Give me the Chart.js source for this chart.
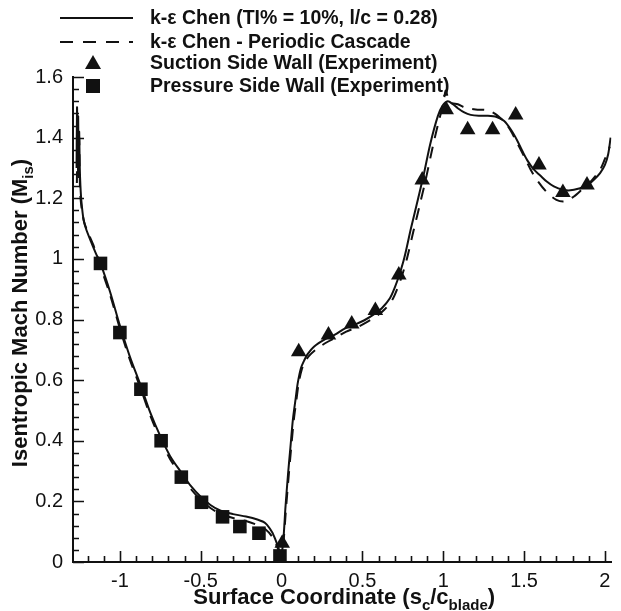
<!DOCTYPE html>
<html>
<head>
<meta charset="utf-8">
<script src="https://cdn.jsdelivr.net/npm/chart.js@4.4.1/dist/chart.umd.min.js"></script>
<style>
  html, body { margin: 0; padding: 0; background: #fff; }
  canvas { display: block; }
</style>
</head>
<body>
<canvas id="chart" width="621" height="611"></canvas>
<script>
const FONT = '"Liberation Sans", Arial, Helvetica, sans-serif';

// k-eps Chen (TI% = 10%, l/c = 0.28)
const chenX = [-1.268, -1.265, -1.262, -1.258, -1.255, -1.252, -1.248, -1.244, -1.238, -1.225, -1.21, -1.185, -1.15, -1.12, -1.06, -1.0, -0.94, -0.87, -0.81, -0.75, -0.69, -0.62, -0.56, -0.5, -0.44, -0.38, -0.3, -0.22, -0.15, -0.1, -0.06, -0.035, -0.015, 0.0, 0.012, 0.024, 0.04, 0.055, 0.07, 0.086, 0.1, 0.12, 0.14, 0.16, 0.2, 0.27, 0.33, 0.39, 0.46, 0.52, 0.58, 0.62, 0.67, 0.70, 0.73, 0.76, 0.80, 0.845, 0.88, 0.92, 0.966, 0.995, 1.028, 1.06, 1.09, 1.13, 1.17, 1.22, 1.274, 1.33, 1.377, 1.42, 1.458, 1.49, 1.52, 1.56, 1.60, 1.64, 1.684, 1.74, 1.786, 1.84, 1.889, 1.93, 1.97, 2.0, 2.02, 2.035];
const chenY = [1.30, 1.50, 1.35, 1.47, 1.27, 1.42, 1.30, 1.24, 1.19, 1.13, 1.10, 1.065, 1.02, 0.985, 0.89, 0.78, 0.68, 0.58, 0.49, 0.415, 0.35, 0.295, 0.25, 0.215, 0.188, 0.17, 0.158, 0.15, 0.14, 0.128, 0.10, 0.07, 0.04, 0.03, 0.08, 0.18, 0.29, 0.38, 0.47, 0.535, 0.59, 0.64, 0.665, 0.685, 0.71, 0.735, 0.75, 0.77, 0.785, 0.80, 0.82, 0.837, 0.87, 0.905, 0.95, 1.005, 1.10, 1.20, 1.28, 1.38, 1.47, 1.505, 1.52, 1.51, 1.497, 1.483, 1.475, 1.472, 1.472, 1.468, 1.455, 1.425, 1.39, 1.355, 1.325, 1.295, 1.275, 1.255, 1.239, 1.228, 1.226, 1.232, 1.241, 1.26, 1.283, 1.31, 1.345, 1.40];

// k-eps Chen - periodic cascade
const periodicX = [-1.266, -1.262, -1.258, -1.252, -1.246, -1.235, -1.22, -1.2, -1.16, -1.12, -1.06, -1.0, -0.94, -0.87, -0.81, -0.75, -0.69, -0.62, -0.56, -0.5, -0.44, -0.38, -0.3, -0.22, -0.15, -0.1, -0.06, -0.035, -0.015, 0.0, 0.014, 0.028, 0.045, 0.06, 0.076, 0.092, 0.106, 0.125, 0.145, 0.17, 0.21, 0.28, 0.34, 0.4, 0.47, 0.53, 0.59, 0.635, 0.685, 0.715, 0.745, 0.775, 0.815, 0.86, 0.895, 0.935, 0.975, 1.0, 1.015, 1.03, 1.05, 1.09, 1.13, 1.2, 1.274, 1.33, 1.4, 1.45, 1.5, 1.54, 1.58, 1.64, 1.70, 1.75, 1.806, 1.86, 1.92, 1.97, 2.0, 2.03];
const periodicY = [1.25, 1.42, 1.28, 1.40, 1.22, 1.16, 1.12, 1.09, 1.04, 0.975, 0.88, 0.77, 0.67, 0.57, 0.48, 0.405, 0.34, 0.285, 0.24, 0.205, 0.178, 0.16, 0.145, 0.135, 0.122, 0.108, 0.085, 0.06, 0.035, 0.025, 0.08, 0.18, 0.29, 0.38, 0.47, 0.535, 0.59, 0.635, 0.66, 0.68, 0.70, 0.725, 0.742, 0.76, 0.775, 0.792, 0.812, 0.832, 0.865, 0.90, 0.945, 1.0, 1.09, 1.19, 1.27, 1.37, 1.46, 1.51, 1.555, 1.53, 1.515, 1.51, 1.50, 1.493, 1.49, 1.475, 1.437, 1.39, 1.338, 1.295, 1.26, 1.22, 1.195, 1.19, 1.205, 1.23, 1.26, 1.294, 1.33, 1.37];

// Experiment, suction side wall
const suctionX = [0.004, 0.106, 0.29, 0.434, 0.58, 0.725, 0.87, 1.018, 1.151, 1.305, 1.448, 1.592, 1.74, 1.889];
const suctionY = [0.062, 0.694, 0.749, 0.785, 0.83, 0.947, 1.26, 1.492, 1.426, 1.426, 1.475, 1.31, 1.219, 1.244];

// Experiment, pressure side wall
const pressureX = [-1.12, -1.0, -0.87, -0.745, -0.62, -0.495, -0.365, -0.258, -0.14, -0.01];
const pressureY = [0.985, 0.757, 0.57, 0.40, 0.28, 0.197, 0.149, 0.117, 0.095, 0.02];

const legendLabels = [
  'k-\u03b5 Chen (TI% = 10%, l/c = 0.28)',
  'k-\u03b5 Chen - Periodic Cascade',
  'Suction Side Wall (Experiment)',
  'Pressure Side Wall (Experiment)'
];

// labelled ticks; minor ticks fall in between
const xTickLabels = [-1, -0.5, 0, 0.5, 1, 1.5, 2];
const yTickLabels = [0, 0.2, 0.4, 0.6, 0.8, 1, 1.2, 1.4, 1.6];

const pts = (xs, ys) => xs.map((x, i) => ({ x: x, y: ys[i] }));

function minorTicks(lo, hi, step) {
  const out = [];
  const n = Math.round((hi - lo) / step);
  for (let i = 0; i <= n; i++) out.push(+(lo + i * step).toFixed(4));
  return out;
}
const isMajor = (v, majors) => majors.some(m => Math.abs(m - v) < 1e-6);

// inward major/minor ticks
const innerTicks = {
  id: 'innerTicks',
  beforeDatasetsDraw(chart) {
    const { ctx, chartArea: a, scales: { x, y } } = chart;
    ctx.save();
    ctx.strokeStyle = '#111';
    ctx.lineWidth = 1.6;
    ctx.beginPath();
    x.ticks.forEach(t => {
      const px = Math.round(x.getPixelForValue(t.value)) + 0.5;
      const len = isMajor(t.value, xTickLabels) ? 11 : 6;
      ctx.moveTo(px, a.bottom);
      ctx.lineTo(px, a.bottom - len);
    });
    y.ticks.forEach(t => {
      const py = Math.round(y.getPixelForValue(t.value)) + 0.5;
      const len = isMajor(t.value, yTickLabels) ? 11 : 6;
      ctx.moveTo(a.left, py);
      ctx.lineTo(a.left + len, py);
    });
    ctx.stroke();
    ctx.restore();
  }
};

// draws a run of text pieces, some of them as subscripts
function drawRich(ctx, parts, size, x, y) {
  const widths = parts.map(p => {
    ctx.font = 'bold ' + (p.sub ? Math.round(size * 0.68) : size) + 'px ' + FONT;
    return ctx.measureText(p.t).width;
  });
  let cx = x - widths.reduce((s, w) => s + w, 0) / 2;
  parts.forEach((p, i) => {
    ctx.font = 'bold ' + (p.sub ? Math.round(size * 0.68) : size) + 'px ' + FONT;
    ctx.fillText(p.t, cx, p.sub ? y + size * 0.25 : y);
    cx += widths[i];
  });
}

const titlesAndLegend = {
  id: 'titlesAndLegend',
  afterDraw(chart) {
    const { ctx, chartArea: a } = chart;
    ctx.save();
    ctx.fillStyle = '#111';
    ctx.textBaseline = 'alphabetic';
    ctx.textAlign = 'left';

    // x axis title
    drawRich(ctx, [
      { t: 'Surface Coordinate (s' }, { t: 'c', sub: true },
      { t: '/c' }, { t: 'blade', sub: true }, { t: ')' }
    ], 22, (a.left + a.right) / 2 + 2, 604);

    // y axis title
    ctx.save();
    ctx.translate(27, 313);
    ctx.rotate(-Math.PI / 2);
    drawRich(ctx, [
      { t: 'Isentropic Mach Number (M' }, { t: 'is', sub: true }, { t: ')' }
    ], 22, 0, 0);
    ctx.restore();

    // legend
    const rows = [18, 42, 63, 86];
    ctx.strokeStyle = '#111';
    ctx.lineWidth = 2;
    ctx.beginPath();
    ctx.moveTo(60, rows[0]); ctx.lineTo(133, rows[0]);
    ctx.stroke();
    ctx.setLineDash([13, 10]);
    ctx.beginPath();
    ctx.moveTo(60, rows[1]); ctx.lineTo(133, rows[1]);
    ctx.stroke();
    ctx.setLineDash([]);

    ctx.beginPath();
    ctx.moveTo(93, rows[2] - 8);
    ctx.lineTo(101, rows[2] + 6);
    ctx.lineTo(85, rows[2] + 6);
    ctx.closePath();
    ctx.fill();
    ctx.fillRect(86, rows[3] - 7, 14, 14);

    ctx.font = 'bold 19.5px ' + FONT;
    ctx.textBaseline = 'middle';
    legendLabels.forEach((s, i) => ctx.fillText(s, 150, rows[i] + 1));
    ctx.restore();
  }
};

new Chart(document.getElementById('chart'), {
  type: 'scatter',
  data: {
    datasets: [
      {
        label: legendLabels[2],
        data: pts(suctionX, suctionY),
        pointStyle: 'triangle',
        pointRadius: 9,
        backgroundColor: '#111',
        borderColor: '#111',
        borderWidth: 0,
        clip: false,
        order: 0
      },
      {
        label: legendLabels[3],
        data: pts(pressureX, pressureY),
        pointStyle: 'rect',
        pointRadius: 9.6,
        backgroundColor: '#111',
        borderColor: '#111',
        borderWidth: 0,
        clip: false,
        order: 0
      },
      {
        label: legendLabels[1],
        data: pts(periodicX, periodicY),
        showLine: true,
        pointRadius: 0,
        borderColor: '#111',
        borderWidth: 2,
        borderDash: [12, 9],
        tension: 0.3,
        order: 1
      },
      {
        label: legendLabels[0],
        data: pts(chenX, chenY),
        showLine: true,
        pointRadius: 0,
        borderColor: '#111',
        borderWidth: 2,
        tension: 0.3,
        order: 1
      }
    ]
  },
  options: {
    responsive: false,
    animation: false,
    events: [],
    layout: { padding: { top: 77, right: 5, left: 0, bottom: 0 } },
    plugins: { legend: { display: false }, tooltip: { enabled: false } },
    scales: {
      x: {
        type: 'linear',
        min: -1.29,
        max: 2.04,
        grid: { display: false, drawTicks: false },
        border: { display: true, color: '#111', width: 2 },
        afterBuildTicks: s => { s.ticks = minorTicks(-1.2, 2.0, 0.1).map(v => ({ value: v })); },
        afterFit: s => { s.height = 49; },
        ticks: {
          autoSkip: false,
          maxRotation: 0,
          padding: 7,
          color: '#111',
          font: { family: FONT, size: 20 },
          callback: v => isMajor(v, xTickLabels) ? String(+(+v).toFixed(2)) : ''
        }
      },
      y: {
        type: 'linear',
        min: 0,
        max: 1.6,
        grid: { display: false, drawTicks: false },
        border: { display: true, color: '#111', width: 2 },
        afterBuildTicks: s => { s.ticks = minorTicks(0, 1.6, 0.04).map(v => ({ value: v })); },
        afterFit: s => { s.width = 73; },
        ticks: {
          autoSkip: false,
          padding: 10,
          color: '#111',
          font: { family: FONT, size: 20 },
          callback: v => isMajor(v, yTickLabels) ? String(+(+v).toFixed(2)) : ''
        }
      }
    }
  },
  plugins: [innerTicks, titlesAndLegend]
});
</script>
</body>
</html>
